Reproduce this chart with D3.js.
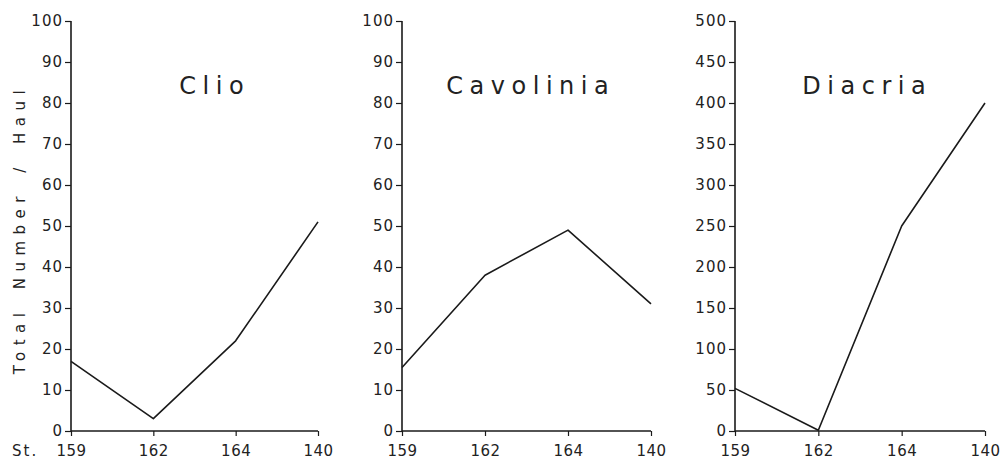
<!DOCTYPE html>
<html>
<head>
<meta charset="utf-8">
<script src="https://cdn.jsdelivr.net/npm/d3@7"></script>
<style>
  html, body { margin: 0; padding: 0; background: #fff; }
  svg { display: block; }
  text { font-family: "DejaVu Sans", sans-serif; fill: #222; }
</style>
</head>
<body>
<svg id="chart" width="1003" height="463"></svg>
<script>
// Stations along the transect
const stations = ["159", "162", "164", "140"];

// Total number per haul for each pteropod genus
const clio      = [17, 3, 22, 51];
const cavolinia = [15.5, 38, 49, 31];
const diacria   = [52, 1, 250, 400];

// Axis tick values
const ticksSmall = [0, 10, 20, 30, 40, 50, 60, 70, 80, 90, 100];
const ticksLarge = [0, 50, 100, 150, 200, 250, 300, 350, 400, 450, 500];

const panels = [
  { name: "Clio",      values: clio,      ticks: ticksSmall, max: 100, x0: 71,  x1: 318, titleShift: 17 },
  { name: "Cavolinia", values: cavolinia, ticks: ticksSmall, max: 100, x0: 402, x1: 651, titleShift: 1 },
  { name: "Diacria",   values: diacria,   ticks: ticksLarge, max: 500, x0: 735, x1: 985, titleShift: 4 }
];

const yBottom = 431, yTop = 21;
const svg = d3.select("#chart");
const ink = "#1a1a1a";

panels.forEach(p => {
  const x = d3.scalePoint().domain(stations).range([p.x0, p.x1]);
  const y = d3.scaleLinear().domain([0, p.max]).range([yBottom, yTop]);
  const g = svg.append("g");

  // y axis
  const ya = g.append("g")
    .attr("transform", `translate(${p.x0},0)`)
    .call(d3.axisLeft(y).tickValues(p.ticks).tickSize(6).tickPadding(2).tickFormat(d3.format("d")));
  ya.select(".domain").remove();
  ya.append("line").attr("x1", 0).attr("x2", 0).attr("y1", yBottom).attr("y2", yTop)
    .attr("stroke", ink).attr("stroke-width", 1.6);
  ya.selectAll(".tick line").attr("stroke", ink).attr("stroke-width", 1.2);
  ya.selectAll(".tick text")
    .attr("font-size", 15).attr("letter-spacing", 1).attr("fill", "#222")
    .attr("font-family", "DejaVu Sans, sans-serif");

  // x axis
  const xa = g.append("g")
    .attr("transform", `translate(0,${yBottom})`)
    .call(d3.axisBottom(x).tickSize(5).tickPadding(9));
  xa.select(".domain").remove();
  xa.append("line").attr("x1", p.x0).attr("x2", p.x1).attr("y1", 0).attr("y2", 0)
    .attr("stroke", ink).attr("stroke-width", 1.6);
  xa.selectAll(".tick line").attr("stroke", ink).attr("stroke-width", 1.2);
  xa.selectAll(".tick text")
    .attr("font-size", 15).attr("letter-spacing", 0.5).attr("fill", "#222")
    .attr("font-family", "DejaVu Sans, sans-serif");

  // data line
  const line = d3.line().x((d, i) => x(stations[i])).y(d => y(d));
  g.append("path")
    .datum(p.values)
    .attr("d", line)
    .attr("fill", "none")
    .attr("stroke", ink)
    .attr("stroke-width", 1.6)
    .attr("stroke-linejoin", "round");

  // panel title
  const ls = 6.5;
  g.append("text")
    .attr("x", (p.x0 + p.x1) / 2 + p.titleShift + ls / 2)
    .attr("y", 94)
    .attr("text-anchor", "middle")
    .attr("font-size", 24)
    .attr("letter-spacing", ls)
    .text(p.name);
});

// shared y-axis label
svg.append("text")
  .attr("transform", "translate(25,229) rotate(-90)")
  .attr("text-anchor", "middle")
  .attr("font-size", 15)
  .attr("letter-spacing", 6.5)
  .attr("word-spacing", 6)
  .text("Total Number / Haul");

// station prefix
svg.append("text")
  .attr("x", 12)
  .attr("y", 456)
  .attr("font-size", 15)
  .attr("letter-spacing", 2)
  .text("St.");
</script>
</body>
</html>
